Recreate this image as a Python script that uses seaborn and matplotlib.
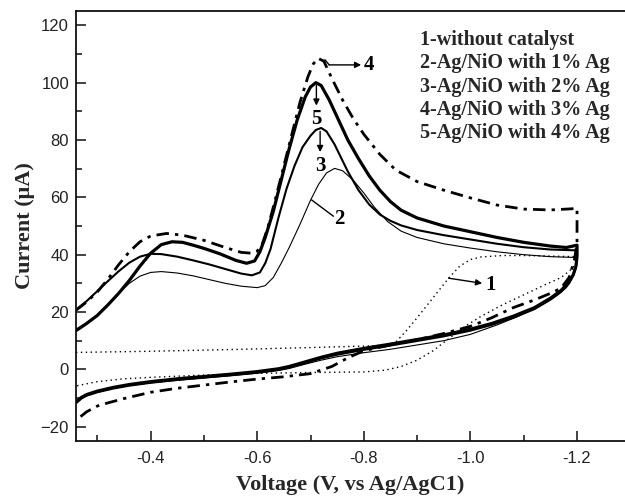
import matplotlib
matplotlib.use("Agg")
import matplotlib.pyplot as plt
from matplotlib.ticker import MultipleLocator
import seaborn as sns
import pandas as pd

# ---------------- data ----------------
# Curve 1: without catalyst (dotted)
c1_fwd_v = [-0.26, -0.40, -0.55, -0.70, -0.80, -0.84, -0.86, -0.88, -0.90, -0.93, -0.96, -0.98, -1.00, -1.02, -1.06, -1.10, -1.15, -1.20]
c1_fwd_i = [5.9, 6.3, 6.9, 7.6, 8.1, 8.4, 9.5, 13.5, 18.0, 25.0, 32.0, 36.0, 38.3, 39.2, 39.7, 39.7, 39.5, 39.3]
c1_rev_v = [-1.20, -1.198, -1.19, -1.17, -1.14, -1.10, -1.06, -1.02, -0.99, -0.96, -0.93, -0.90, -0.87, -0.84, -0.80, -0.70, -0.60, -0.50, -0.40, -0.35, -0.30, -0.26]
c1_rev_i = [39.3, 37.0, 35.0, 32.0, 29.5, 26.0, 22.5, 18.5, 15.0, 10.8, 6.5, 3.2, 1.0, -0.3, -0.9, -1.1, -1.4, -2.0, -2.8, -3.3, -4.3, -5.8]

# Curve 2: Ag/NiO with 1% Ag (thin solid)
c2_fwd_v = [-0.26, -0.28, -0.30, -0.32, -0.34, -0.36, -0.38, -0.40, -0.42, -0.45, -0.48, -0.51, -0.54, -0.57, -0.60, -0.615, -0.63, -0.645, -0.66, -0.68, -0.70, -0.715, -0.73, -0.745, -0.76, -0.78, -0.80, -0.82, -0.845, -0.87, -0.90, -0.95, -1.00, -1.05, -1.10, -1.15, -1.20]
c2_fwd_i = [14.0, 16.2, 19.0, 22.5, 26.5, 30.0, 32.5, 33.8, 34.1, 33.6, 32.6, 31.3, 30.0, 29.0, 28.5, 29.2, 32.0, 37.0, 42.5, 50.5, 59.0, 64.5, 68.5, 70.1, 69.3, 66.0, 61.5, 56.5, 51.5, 48.2, 46.0, 43.8, 42.3, 41.0, 40.0, 39.3, 39.0]
c2_rev_v = [-1.20, -1.198, -1.19, -1.18, -1.16, -1.13, -1.09, -1.05, -1.00, -0.95, -0.90, -0.85, -0.80, -0.75, -0.72, -0.69, -0.66, -0.64, -0.60, -0.55, -0.50, -0.45, -0.40, -0.36, -0.33, -0.30, -0.28, -0.27, -0.26]
c2_rev_i = [39.0, 35.0, 31.5, 28.5, 25.5, 22.0, 18.5, 15.5, 12.2, 10.0, 8.5, 7.0, 5.8, 4.4, 3.2, 1.8, 0.3, -0.4, -1.3, -2.2, -3.0, -3.8, -4.7, -5.6, -6.6, -7.9, -9.0, -10.0, -11.5]

# Curve 3: Ag/NiO with 2% Ag (medium solid)
c3_fwd_v = [-0.26, -0.28, -0.30, -0.32, -0.34, -0.36, -0.38, -0.40, -0.42, -0.45, -0.48, -0.51, -0.54, -0.57, -0.59, -0.605, -0.615, -0.625, -0.64, -0.655, -0.67, -0.685, -0.70, -0.71, -0.72, -0.73, -0.745, -0.77, -0.79, -0.81, -0.83, -0.85, -0.87, -0.90, -0.95, -1.00, -1.05, -1.10, -1.15, -1.20]
c3_fwd_i = [20.8, 23.8, 27.3, 30.8, 34.2, 37.2, 39.3, 40.3, 40.2, 39.3, 38.0, 36.6, 35.0, 33.4, 32.8, 33.8, 37.0, 42.0, 53.0, 63.0, 71.0, 77.5, 81.5, 83.5, 84.2, 83.0, 78.5, 69.0, 62.5, 57.5, 54.0, 51.8, 50.2, 48.6, 46.8, 45.3, 43.8, 42.6, 41.8, 41.5]
c3_rev_v = [-1.20, -1.198, -1.193, -1.185, -1.17, -1.15, -1.12, -1.08, -1.04, -1.00, -0.95, -0.90, -0.85, -0.80, -0.75, -0.72, -0.69, -0.66, -0.64, -0.60, -0.55, -0.50, -0.45, -0.40, -0.36, -0.33, -0.30, -0.28, -0.27, -0.26]
c3_rev_i = [41.5, 36.0, 33.0, 30.0, 27.0, 24.3, 21.0, 18.0, 15.5, 13.5, 11.5, 9.9, 8.3, 6.8, 5.1, 3.8, 2.2, 0.6, -0.2, -1.2, -2.1, -2.9, -3.7, -4.7, -5.7, -6.7, -8.0, -9.2, -10.2, -11.8]

# Curve 4: Ag/NiO with 3% Ag (dash-dot)
c4_fwd_v = [-0.26, -0.28, -0.30, -0.32, -0.34, -0.36, -0.38, -0.40, -0.43, -0.46, -0.50, -0.54, -0.57, -0.59, -0.60, -0.61, -0.62, -0.635, -0.65, -0.665, -0.68, -0.695, -0.705, -0.714, -0.725, -0.74, -0.76, -0.78, -0.80, -0.83, -0.86, -0.90, -0.95, -1.00, -1.05, -1.10, -1.15, -1.19, -1.20]
c4_fwd_i = [20.6, 23.5, 27.0, 31.5, 36.5, 41.0, 44.5, 46.5, 47.4, 46.8, 45.0, 42.5, 40.8, 40.5, 41.2, 44.0, 49.5, 60.0, 71.0, 82.0, 93.0, 102.0, 106.5, 108.5, 107.5, 101.5, 94.0, 87.5, 82.0, 75.0, 69.5, 65.5, 62.5, 59.8, 57.3, 55.9, 55.6, 56.0, 56.2]
c4_rev_v = [-1.20, -1.20, -1.195, -1.185, -1.17, -1.15, -1.12, -1.08, -1.04, -1.00, -0.95, -0.90, -0.85, -0.80, -0.77, -0.74, -0.70, -0.65, -0.60, -0.55, -0.50, -0.45, -0.40, -0.35, -0.32, -0.30, -0.28, -0.26]
c4_rev_i = [56.2, 44.0, 38.0, 32.0, 28.3, 26.5, 24.2, 21.5, 18.0, 15.0, 12.5, 10.3, 8.5, 6.5, 4.0, 1.0, -1.5, -2.6, -3.4, -4.4, -5.5, -6.6, -8.0, -10.2, -11.7, -12.8, -14.8, -17.8]

# Curve 5: Ag/NiO with 4% Ag (thick solid)
c5_fwd_v = [-0.26, -0.28, -0.30, -0.32, -0.34, -0.36, -0.38, -0.40, -0.42, -0.44, -0.46, -0.48, -0.50, -0.53, -0.56, -0.58, -0.595, -0.605, -0.615, -0.63, -0.645, -0.66, -0.675, -0.69, -0.70, -0.71, -0.72, -0.735, -0.75, -0.77, -0.79, -0.81, -0.83, -0.85, -0.87, -0.90, -0.95, -1.00, -1.05, -1.10, -1.15, -1.18, -1.20]
c5_fwd_i = [13.5, 16.0, 18.8, 22.5, 26.5, 31.0, 36.0, 40.5, 43.5, 44.5, 44.3, 43.3, 42.2, 40.3, 38.0, 37.0, 37.8, 41.0, 46.0, 55.0, 66.0, 77.0, 87.0, 95.0, 98.5, 100.0, 99.0, 94.0, 88.0, 80.0, 73.5, 67.5, 62.5, 58.5, 55.5, 52.8, 50.0, 48.0, 46.0, 44.3, 43.0, 42.5, 43.3]
c5_rev_v = [-1.20, -1.20, -1.198, -1.193, -1.185, -1.17, -1.15, -1.12, -1.08, -1.04, -1.00, -0.95, -0.90, -0.85, -0.80, -0.75, -0.72, -0.69, -0.66, -0.64, -0.60, -0.55, -0.50, -0.45, -0.40, -0.36, -0.33, -0.30, -0.28, -0.27, -0.26]
c5_rev_i = [43.3, 39.5, 36.0, 33.0, 30.5, 27.5, 24.8, 21.5, 18.5, 16.0, 14.0, 12.0, 10.4, 8.8, 7.3, 5.6, 4.2, 2.6, 1.0, 0.2, -0.8, -1.7, -2.5, -3.3, -4.3, -5.3, -6.3, -7.6, -8.8, -9.8, -11.5]

legend_lines = ["1-without catalyst", "2-Ag/NiO with 1% Ag", "3-Ag/NiO with 2% Ag",
                "4-Ag/NiO with 3% Ag", "5-Ag/NiO with 4% Ag"]
x_ticks = [-0.4, -0.6, -0.8, -1.0, -1.2]
y_ticks = [-20, 0, 20, 40, 60, 80, 100, 120]

# ---------------- build table ----------------
curves = {
    "1": (c1_fwd_v + c1_rev_v, c1_fwd_i + c1_rev_i),
    "2": (c2_fwd_v + c2_rev_v, c2_fwd_i + c2_rev_i),
    "3": (c3_fwd_v + c3_rev_v, c3_fwd_i + c3_rev_i),
    "4": (c4_fwd_v + c4_rev_v, c4_fwd_i + c4_rev_i),
    "5": (c5_fwd_v + c5_rev_v, c5_fwd_i + c5_rev_i),
}
frames = []
for k, (v, i) in curves.items():
    frames.append(pd.DataFrame({"V": v, "I": i, "curve": k, "order": range(len(v))}))
df = pd.concat(frames, ignore_index=True)

styles = {
    "1": dict(lw=1.0, linestyle=(0, (1, 2.5))),
    "2": dict(lw=0.8, linestyle="-"),
    "3": dict(lw=1.5, linestyle="-"),
    "4": dict(lw=2.0, linestyle=(0, (4.5, 2.2, 1.2, 2.2))),
    "5": dict(lw=2.3, linestyle="-"),
}

sns.set_style("white")
plt.rcParams["font.family"] = ["Liberation Sans", "DejaVu Sans"]
plt.rcParams["lines.solid_joinstyle"] = "round"

fig = plt.figure(figsize=(6.25, 4.96), dpi=100)
ax = fig.add_axes([76 / 625, 1 - 441 / 496, 1 - 76 / 625, (441 - 11) / 496])

for k in ["1", "2", "3", "5", "4"]:
    sub = df[df["curve"] == k]
    sns.lineplot(data=sub, x="V", y="I", sort=False, estimator=None,
                 color="black", ax=ax, **styles[k])

ax.set_xlim(-0.26, -1.29)
ax.set_ylim(-25, 125)
ax.set_xticks(x_ticks)
ax.set_xticklabels(["%.1f" % t for t in x_ticks])
ax.set_yticks(y_ticks)
ax.xaxis.set_minor_locator(MultipleLocator(0.1))
ax.yaxis.set_minor_locator(MultipleLocator(10))
ax.tick_params(which="major", direction="in", length=7, width=1.2, colors="#222222",
               labelsize=12, labelcolor="#222222")
ax.tick_params(which="minor", direction="in", length=4, width=1.2, colors="#222222")
ax.tick_params(axis="x", which="major", pad=7)
ax.tick_params(axis="y", which="major", pad=5)
ax.tick_params(bottom=True, left=True, top=False, right=False, which="both")

for s in ["left", "bottom", "top"]:
    ax.spines[s].set_visible(True)
    ax.spines[s].set_linewidth(1.3)
    ax.spines[s].set_color("#111111")
ax.spines["right"].set_visible(False)

serif = ["Liberation Serif", "DejaVu Serif"]
ax.set_xlabel("Voltage (V, vs Ag/AgC1)", family=serif, fontweight="bold", fontsize=16, labelpad=7)
ax.set_ylabel("Current (\u03bcA)", family=serif, fontweight="bold", fontsize=16, labelpad=4)

# legend text block
for n, t in enumerate(legend_lines):
    ax.text(0.627, 0.921 - n * 0.0543, t, transform=ax.transAxes, family=serif,
            fontweight="bold", fontsize=14.5, ha="left", va="baseline")

# curve number annotations
num_kw = dict(family=serif, fontweight="bold", fontsize=15, color="black")
arrow_kw = dict(arrowstyle="-|>", color="black", lw=1.0, mutation_scale=9, shrinkA=0, shrinkB=0)
line_kw = dict(arrowstyle="-", color="black", lw=1.0, shrinkA=0, shrinkB=0)

ax.annotate("", xy=(-0.735, 106.2), xytext=(-0.727, 108.0), arrowprops=line_kw)
ax.annotate("", xy=(-0.795, 106.2), xytext=(-0.735, 106.2), arrowprops=arrow_kw)
ax.text(-0.80, 106.0, "4", ha="left", va="center", **num_kw)

ax.annotate("", xy=(-0.711, 92.0), xytext=(-0.711, 99.0), arrowprops=arrow_kw)
ax.text(-0.711, 87.5, "5", ha="center", va="center", **num_kw)

ax.annotate("", xy=(-0.718, 75.8), xytext=(-0.718, 83.0), arrowprops=arrow_kw)
ax.text(-0.718, 71.0, "3", ha="center", va="center", **num_kw)

ax.annotate("", xy=(-0.743, 53.4), xytext=(-0.702, 59.1), arrowprops=line_kw)
ax.text(-0.744, 52.6, "2", ha="left", va="center", **num_kw)

ax.annotate("", xy=(-1.022, 30.0), xytext=(-0.959, 31.8), arrowprops=arrow_kw)
ax.text(-1.028, 29.4, "1", ha="left", va="center", **num_kw)

fig.savefig("out.png", dpi=100)
